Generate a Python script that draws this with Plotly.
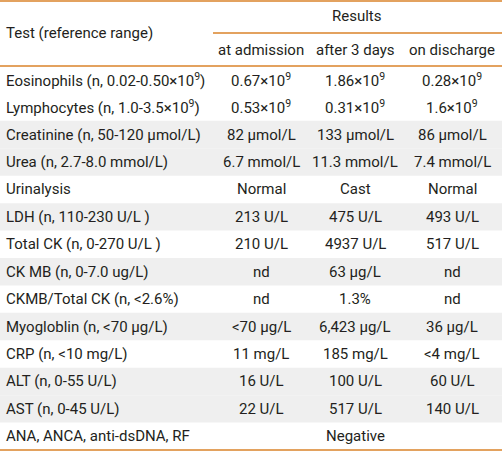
import plotly.graph_objects as go

tests = [
    "Eosinophils (n, 0.02-0.50×10<sup>9</sup>)",
    "Lymphocytes (n, 1.0-3.5×10<sup>9</sup>)",
    "Creatinine (n, 50-120 µmol/L)",
    "Urea (n, 2.7-8.0 mmol/L)",
    "Urinalysis",
    "LDH (n, 110-230 U/L )",
    "Total CK (n, 0-270 U/L )",
    "CK MB (n, 0-7.0 ug/L)",
    "CKMB/Total CK (n, <2.6%)",
    "Myogloblin (n, <70 µg/L)",
    "CRP (n, <10 mg/L)",
    "ALT (n, 0-55 U/L)",
    "AST (n, 0-45 U/L)",
    "ANA, ANCA, anti-dsDNA, RF",
]
at_admission = ["0.67×10<sup>9</sup>", "0.53×10<sup>9</sup>", "82 µmol/L", "6.7 mmol/L", "Normal",
                "213 U/L", "210 U/L", "nd", "nd", "<70 µg/L", "11 mg/L", "16 U/L", "22 U/L", ""]
after_3_days = ["1.86×10<sup>9</sup>", "0.31×10<sup>9</sup>", "133 µmol/L", "11.3 mmol/L", "Cast",
                "475 U/L", "4937 U/L", "63 µg/L", "1.3%", "6,423 µg/L", "185 mg/L", "100 U/L", "517 U/L", "Negative"]
on_discharge = ["0.28×10<sup>9</sup>", "1.6×10<sup>9</sup>", "86 µmol/L", "7.4 mmol/L", "Normal",
                "493 U/L", "517 U/L", "nd", "nd", "36 µg/L", "<4 mg/L", "60 U/L", "140 U/L", ""]
col_headers = ["at admission", "after 3 days", "on discharge"]
group_header = "Results"
first_header = "Test (reference range)"

# style / layout config
shaded_rows = [2, 3, 5, 7, 9, 11, 12]
W, H = 502, 453
FONT = "Roboto"
TXT = "#231f20"
LINE = "#e3a25f"
GRAY = "#efefef"
FS = 15
col_x = [261, 355, 452]
left_x = 4
row_top, row_bot = 66, 450
n = len(tests)
rh = (row_bot - row_top) / n

fig = go.Figure()
shapes = []
ann = []

for i in shaded_rows:
    shapes.append(dict(type="rect", x0=0, x1=W, y0=row_top + i * rh, y1=row_top + (i + 1) * rh,
                       fillcolor=GRAY, line=dict(width=0), layer="below"))

def hline(y, x0=0, x1=W, w=2):
    shapes.append(dict(type="line", x0=x0, x1=x1, y0=y, y1=y, line=dict(color=LINE, width=w)))

hline(1)
hline(33, x0=213)
hline(66)
hline(450)

def text(x, y, s, anchor="center"):
    ann.append(dict(x=x, y=y, text=s, showarrow=False, xanchor=anchor, yanchor="middle",
                    font=dict(family=FONT, size=FS, color=TXT)))

text(left_x, 33, first_header, "left")
text(357, 16, group_header)
for cx, h in zip(col_x, col_headers):
    text(cx, 50, h)

for i in range(n):
    y = row_top + (i + 0.5) * rh
    text(left_x, y, tests[i], "left")
    for cx, col in zip(col_x, [at_admission, after_3_days, on_discharge]):
        if col[i]:
            text(cx, y, col[i])

fig.update_layout(
    width=W, height=H, margin=dict(l=0, r=0, t=0, b=0),
    paper_bgcolor="white", plot_bgcolor="white",
    xaxis=dict(range=[0, W], visible=False, fixedrange=True),
    yaxis=dict(range=[H, 0], visible=False, fixedrange=True),
    shapes=shapes, annotations=ann, showlegend=False,
)
fig.write_html(
    "out.html",
    config={"displayModeBar": False},
    post_script="document.body.style.margin='0';document.body.style.padding='0';document.body.style.overflow='hidden';",
)
